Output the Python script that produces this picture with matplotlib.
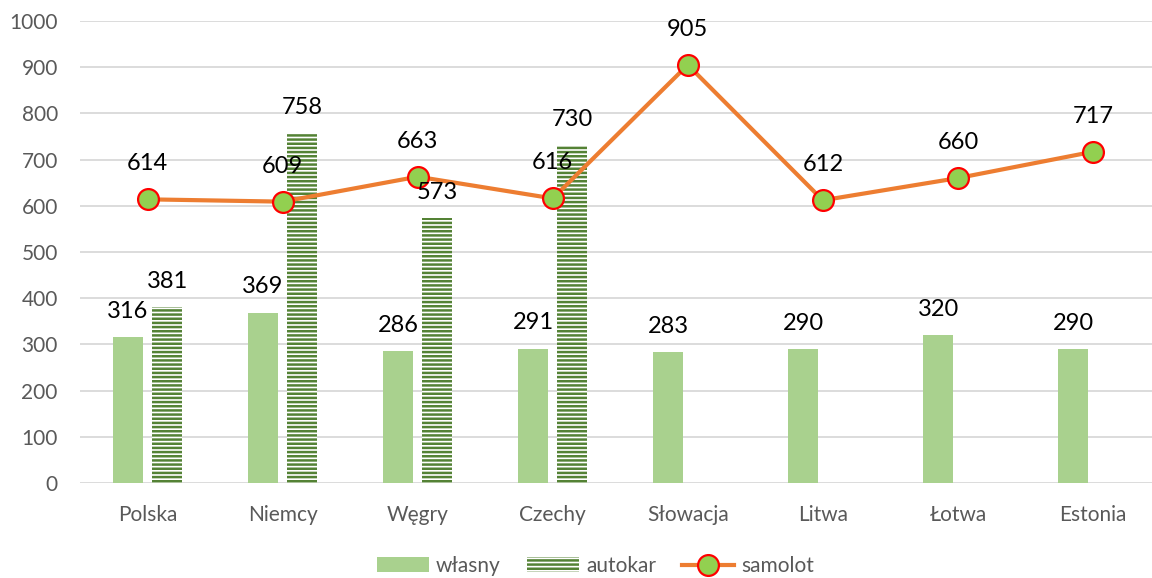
import matplotlib
matplotlib.use("Agg")
import matplotlib.pyplot as plt
import numpy as np

categories = ["Polska", "Niemcy", "Węgry", "Czechy", "Słowacja", "Litwa", "Łotwa", "Estonia"]
wlasny = [316, 369, 286, 291, 283, 290, 320, 290]
autokar = [381, 758, 573, 730, None, None, None, None]
samolot = [614, 609, 663, 616, 905, 612, 660, 717]
y_ticks = [0, 100, 200, 300, 400, 500, 600, 700, 800, 900, 1000]

plt.rcParams['font.family'] = ['Lato', 'DejaVu Sans']
plt.rcParams['hatch.linewidth'] = 1.8

fig = plt.figure(figsize=(11.52, 5.78), dpi=100)
ax = fig.add_axes([80/1152, 95/578, (1152-80)/1152, 462/578])

x = np.arange(len(categories))
bw = 0.222
off = 0.145

h1 = ax.bar(x - off, wlasny, width=bw, color="#A9D18E", zorder=2, label="własny")
ax_x = [xi for xi, v in zip(x, autokar) if v is not None]
ax_v = [v for v in autokar if v is not None]
h2 = ax.bar(np.array(ax_x) + off, ax_v, width=bw, facecolor="white", edgecolor="#548235",
            hatch="----", linewidth=0, zorder=2, label="autokar")
h3, = ax.plot(x, samolot, color="#ED7D31", linewidth=3, marker="o", markersize=15,
              markerfacecolor="#92D050", markeredgecolor="#FF0000", markeredgewidth=1.6,
              zorder=4, label="samolot")

lab_kw = dict(ha="center", va="bottom", fontsize=17, color="#000000",
              textcoords="offset points", zorder=5)
for xi, v in zip(x, wlasny):
    ax.annotate(str(v), (xi - off, v), xytext=(0, 11), **lab_kw)
for xi, v in zip(ax_x, ax_v):
    ax.annotate(str(v), (xi + off, v), xytext=(0, 11), **lab_kw)
for xi, v in zip(x, samolot):
    ax.annotate(str(v), (xi, v), xytext=(0, 18), **lab_kw)

ax.set_xlim(-0.5, (1152 - 148) / 135)
ax.set_ylim(0, 1000)
ax.set_yticks(y_ticks)
ax.set_xticks(x)
ax.set_xticklabels(categories)
ax.tick_params(axis="both", length=0, labelsize=15, colors="#595959")
ax.tick_params(axis="y", pad=16)
ax.tick_params(axis="x", pad=16)
ax.grid(axis="y", color="#D9D9D9", linewidth=1.3, zorder=0)
ax.set_axisbelow(True)
for s in ax.spines.values():
    s.set_visible(False)

leg = fig.legend(handles=[h1, h2, h3], labels=["własny", "autokar", "samolot"],
                 loc="center", bbox_to_anchor=(0.517, 12/578), ncol=3, frameon=False,
                 fontsize=15, handlelength=2.5, handleheight=0.7, columnspacing=1.25,
                 handletextpad=0.35)
for t in leg.get_texts():
    t.set_color("#595959")

fig.savefig("out.png", dpi=100)
